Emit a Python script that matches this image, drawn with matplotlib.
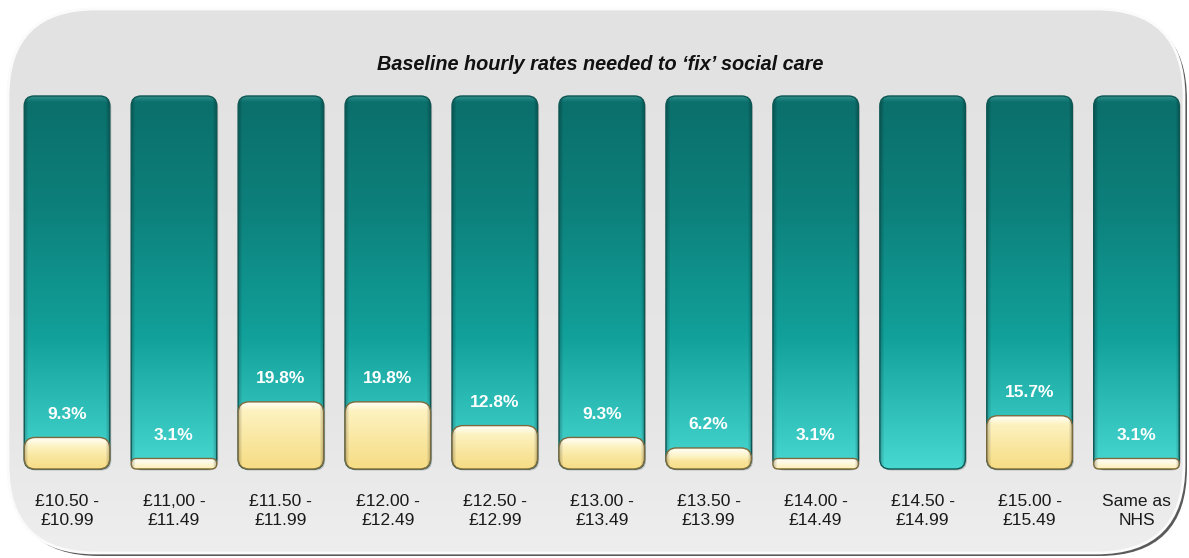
import numpy as np
import matplotlib
matplotlib.use("Agg")
import matplotlib.pyplot as plt
from matplotlib.patches import FancyBboxPatch
from matplotlib.colors import to_rgb

# ---- data -------------------------------------------------------------
categories = ["£10.50 -\n£10.99", "£11,00 -\n£11.49", "£11.50 -\n£11.99",
              "£12.00 -\n£12.49", "£12.50 -\n£12.99", "£13.00 -\n£13.49",
              "£13.50 -\n£13.99", "£14.00 -\n£14.49", "£14.50 -\n£14.99",
              "£15.00 -\n£15.49", "Same as\nNHS"]
shares = [9.3, 3.1, 19.8, 19.8, 12.8, 9.3, 6.2, 3.1, 0.0, 15.7, 3.1]
track_max = 110
title = "Baseline hourly rates needed to \u2018fix\u2019 social care"

FONT = "Liberation Sans"
W, H = 1189, 558
DPI = 100

fig = plt.figure(figsize=(W / DPI, H / DPI), dpi=DPI)
fig.patch.set_facecolor("white")


def ramp(stops, n):
    """Colour ramp (n x 3) from a list of (position, colour) stops."""
    pos = np.array([s[0] for s in stops])
    cols = np.array([to_rgb(s[1]) for s in stops])
    t = np.linspace(0, 1, n)
    return np.stack([np.interp(t, pos, cols[:, k]) for k in range(3)], axis=1)


# ---- rounded background panel (pixel coordinates) ---------------------
bg = fig.add_axes([0, 0, 1, 1])
bg.set_xlim(0, W)
bg.set_ylim(0, H)
bg.axis("off")

px0, px1, py0, py1, prad = 8, 1184, 5, 549, 88
shadow = FancyBboxPatch((px0 + 3, py0 - 3), px1 - px0, py1 - py0,
                        boxstyle=f"round,pad=0,rounding_size={prad}",
                        facecolor="#5a5a5a", edgecolor="none", zorder=1)
bg.add_patch(shadow)
panel = FancyBboxPatch((px0, py0), px1 - px0, py1 - py0,
                       boxstyle=f"round,pad=0,rounding_size={prad}",
                       facecolor="none", edgecolor="#fbfbfb", lw=2.0, zorder=3)
bg.add_patch(panel)
pg = ramp([(0, "#e2e2e2"), (0.75, "#e6e6e6"), (1, "#eeeeee")], 200)[:, None, :]
im = bg.imshow(pg, extent=[px0, px1, py0, py1], origin="upper",
               aspect="auto", interpolation="bilinear", zorder=2)
im.set_clip_path(panel)
bg.set_xlim(0, W)
bg.set_ylim(0, H)

fig.text(600 / W, 1 - 65 / H, title, ha="center", va="center",
         fontsize=14.3, fontweight="bold", fontstyle="italic",
         family=FONT, color="#111111")

# ---- bar axes ---------------------------------------------------------
pitch = 106.95
ppu = 373 / track_max          # pixels per percentage point
ylo, yhi = -2.0, track_max + 2.0
ax_left = 67 - 0.5 * pitch
ax_bottom = (H - 469) + ylo * ppu
ax = fig.add_axes([ax_left / W, ax_bottom / H, 11 * pitch / W, (yhi - ylo) * ppu / H])
ax.set_xlim(-0.5, 10.5)
ax.set_ylim(ylo, yhi)
ax.axis("off")
ax.patch.set_alpha(0)

x = np.arange(len(categories))
bar_w = 0.80
xu_per_px = 1 / pitch
yu_per_px = 1 / ppu
aspect = yu_per_px / xu_per_px

teal_stops = [(0, "#2f8e8a"), (0.015, "#0b6f6b"), (0.3, "#0d807b"),
              (0.65, "#12a19b"), (1, "#48d8d2")]
yellow_stops_px = ["#fffef6", "#fffbe8", "#fdf2c0", "#f9e69e", "#f6dc84"]


def side_shade(ncols, depth=0.22, edge_px=4):
    c = np.arange(ncols)
    d = np.minimum(c, ncols - 1 - c)
    return 1 - depth * np.clip(1 - d / edge_px, 0, 1)


def rounded(rect, radius_px, fc, ec, lw, z):
    x0, y0 = rect.get_x(), rect.get_y()
    w, h = rect.get_width(), rect.get_height()
    r = min(radius_px, 0.5 * h / yu_per_px) * xu_per_px
    p = FancyBboxPatch((x0, y0), w, h,
                       boxstyle=f"round,pad=0,rounding_size={r}",
                       mutation_aspect=aspect, facecolor=fc,
                       edgecolor=ec, lw=lw, zorder=z)
    ax.add_patch(p)
    return p


def paint(rect, patch, rgb_rows, z):
    x0, y0 = rect.get_x(), rect.get_y()
    w, h = rect.get_width(), rect.get_height()
    ncols = max(int(round(w / xu_per_px)), 2)
    shade = side_shade(ncols)
    img = rgb_rows[:, None, :] * shade[None, :, None]
    im = ax.imshow(np.clip(img, 0, 1), extent=[x0, x0 + w, y0, y0 + h],
                   origin="upper", aspect="auto",
                   interpolation="bilinear", zorder=z)
    im.set_clip_path(patch)


# full-height teal tracks
tracks = ax.bar(x, [track_max] * len(x), width=bar_w, color="none")
for rect in tracks:
    rect.set_visible(False)
    n = int(round(rect.get_height() / yu_per_px))
    # soft drop shadow
    sh = rounded(rect, 10, "#9a9a9a", "none", 0, 2)
    sh.set_x(sh.get_x() + 1.5 * xu_per_px)
    sh.set_y(sh.get_y() - 1.5 * yu_per_px)
    sh.set_alpha(0.6)
    p = rounded(rect, 10, "none", "#0b5653", 1.0, 4)
    paint(rect, p, ramp(teal_stops, n), 3)

# yellow share bars
bars = ax.bar(x, shares, width=bar_w, color="none")
for rect, v in zip(bars, shares):
    rect.set_visible(False)
    if v <= 0:
        continue
    n = max(int(round(rect.get_height() / yu_per_px)), 2)
    rows = np.array([to_rgb(c) for c in yellow_stops_px])
    t_px = np.array([0, 3, 9, 0.6 * n, n])
    t_px = np.maximum.accumulate(np.minimum(t_px, n))
    t_px = t_px + np.arange(5) * 1e-3
    t = np.arange(n)
    rgb = np.stack([np.interp(t, t_px, rows[:, k]) for k in range(3)], axis=1)
    p = rounded(rect, 11, "none", "#7d6a3c", 1.0, 6)
    paint(rect, p, rgb, 5)
    ax.annotate(f"{v}%", xy=(rect.get_x() + rect.get_width() / 2, rect.get_height()),
                xytext=(0, 23 * 72 / DPI), textcoords="offset points",
                ha="center", va="center", color="white", fontsize=12.5,
                fontweight="bold", family=FONT, zorder=8)

# category labels under each bar
for xi, lab in zip(x, categories):
    ax.annotate(lab, xy=(xi, 0), xytext=(0, -42 * 72 / DPI),
                textcoords="offset points", ha="center", va="center",
                fontsize=12.5, family=FONT, color="#1a1a1a",
                linespacing=1.35, annotation_clip=False)

ax.set_xlim(-0.5, 10.5)
ax.set_ylim(ylo, yhi)

fig.savefig("out.png", dpi=DPI, facecolor="white")
